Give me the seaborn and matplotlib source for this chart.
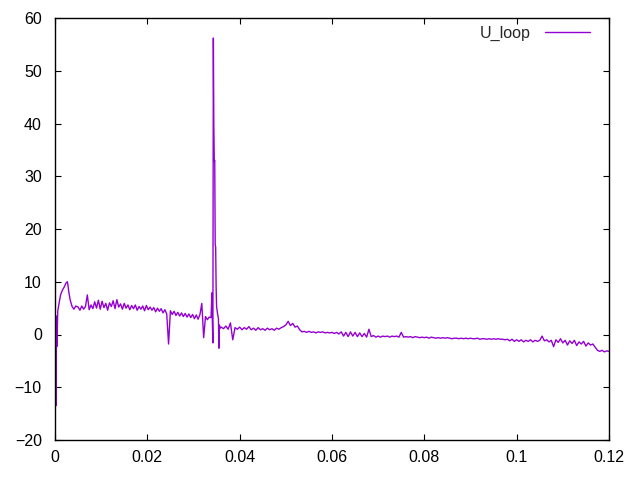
import numpy as np
import pandas as pd
import matplotlib
matplotlib.use("Agg")
import matplotlib.pyplot as plt
import seaborn as sns

# ==============================
# Data
# ==============================

# start-up transient, 0 .. 0.0045 s
t_start = [0, 0.0002, 0.0003, 0.0004, 0.0006, 0.0009, 0.0012, 0.0016,
           0.002, 0.0024, 0.0027, 0.003, 0.0033, 0.0037, 0.0041, 0.0045]
u_start = [9.8, -13.5, 3.5, -2.3, 4.5, 6.0, 7.5, 8.4,
           9.0, 9.8, 10.0, 8.0, 6.5, 5.3, 4.8, 5.4]

# plateau, sampled every 0.4 ms from 0.005 s
t_plateau0, t_plateau_step = 0.005, 0.0004
u_plateau = [5.2, 4.6, 5.4, 4.8, 5.3, 7.5, 4.7, 5.6, 4.9, 6.2,
             5.0, 6.5, 4.8, 6.3, 5.1, 5.9, 4.6, 6.0, 5.3, 6.4,
             4.9, 6.6, 5.2, 5.8, 4.8, 5.9, 5.0, 5.6, 4.7, 5.5,
             4.9, 5.6, 4.6, 5.3, 4.8, 5.4, 4.5, 5.5, 4.7, 5.2,
             4.6, 5.1, 4.3, 5.0, 4.4, 4.9, 4.1, 4.7, 3.9, -1.8,
             4.5, 3.8, 4.4, 3.6, 4.2, 3.5, 4.1, 3.4, 4.0, 3.3,
             3.9, 3.2, 3.8, 3.0, 3.7, 2.9, 3.8, 5.9, -0.6, 3.4,
             2.8, 3.3]

# disruption spike
t_spike = [0.0338, 0.0340, 0.0341, 0.0342, 0.0343, 0.0344, 0.0345, 0.0346,
           0.0347, 0.0348, 0.0349, 0.0350, 0.0352, 0.0354, 0.0355, 0.0356,
           0.0357, 0.0358]
u_spike = [3.2, 7.9, 2.0, -1.6, 56.2, 40.0, 32.8, 33.0,
           17.0, 16.6, 9.0, 5.3, 4.0, 3.0, -2.6, 1.8,
           1.5, 1.2]

# tail, sampled every 0.5 ms from 0.036 s
t_tail0, t_tail_step = 0.036, 0.0005
u_tail = [1.4, 1.1, 1.6, 1.0, 2.2, -1.0, 1.3, 1.0, 1.4, 0.9,
          1.3, 1.0, 1.5, 0.9, 1.2, 0.8, 1.3, 0.9, 1.1, 0.8,
          1.2, 0.9, 1.1, 0.8, 1.2, 1.0, 1.3, 1.5, 1.8, 2.5,
          1.7, 2.1, 1.4, 1.6, 0.9, 0.5, 0.6, 0.4, 0.6, 0.4,
          0.5, 0.3, 0.5, 0.4, 0.5, 0.3, 0.4, 0.3, 0.4, 0.2,
          0.4, 0.1, 0.5, -0.3, 0.4, -0.4, 0.5, -0.3, 0.4, -0.4,
          0.3, -0.4, 0.2, -0.5, 1.0, -0.4, -0.2, -0.5, -0.3, -0.5,
          -0.3, -0.4, -0.3, -0.5, -0.3, -0.4, -0.3, -0.5, 0.4, -0.5,
          -0.4, -0.5, -0.4, -0.6, -0.4, -0.5, -0.6, -0.5, -0.6, -0.5,
          -0.7, -0.5, -0.6, -0.7, -0.6, -0.7, -0.6, -0.7, -0.6, -0.7,
          -0.8, -0.7, -0.7, -0.8, -0.7, -0.8, -0.7, -0.8, -0.7, -0.8,
          -0.8, -0.7, -0.9, -0.8, -0.8, -0.9, -0.8, -0.9, -0.8, -0.9,
          -0.8, -0.9, -0.9, -1.0, -0.9, -1.2, -0.9, -1.3, -1.0, -1.3,
          -1.0, -1.4, -1.1, -1.3, -1.0, -1.4, -1.1, -1.3, -1.1, -0.3,
          -1.2, -1.0, -1.4, -1.1, -2.3, -1.0, -1.5, -0.8, -1.6, -1.1,
          -2.0, -1.2, -1.7, -1.1, -2.1, -1.4, -1.8, -1.3, -2.2, -1.6,
          -2.0, -1.8, -2.4, -3.0, -3.2, -3.0, -3.3, -3.1, -3.2]

x_ticks = [0, 0.02, 0.04, 0.06, 0.08, 0.1, 0.12]
x_ticklabels = ["0", "0.02", "0.04", "0.06", "0.08", "0.1", "0.12"]
y_ticks = [-20, -10, 0, 10, 20, 30, 40, 50, 60]

# ==============================
# Assemble series
# ==============================

t_plateau = t_plateau0 + t_plateau_step * np.arange(len(u_plateau))
t_tail = t_tail0 + t_tail_step * np.arange(len(u_tail))

df = pd.DataFrame({
    "t": np.concatenate([t_start, t_plateau, t_spike, t_tail]),
    "U_loop": np.concatenate([u_start, u_plateau, u_spike, u_tail]),
})

# ==============================
# Plot
# ==============================

sns.set_style("ticks")
plt.rcParams["font.family"] = ["Liberation Sans", "DejaVu Sans"]

fig = plt.figure(figsize=(6.4, 4.8), dpi=100)
ax = fig.add_axes([55 / 640, 40 / 480, 554 / 640, 422 / 480])

sns.lineplot(
    data=df, x="t", y="U_loop",
    color="#9400D3", linewidth=1.0,
    estimator=None, label="U_loop", ax=ax
)

ax.set_xlim(0, 0.12)
ax.set_ylim(-20, 60)
ax.set_xticks(x_ticks)
ax.set_xticklabels(x_ticklabels)
ax.set_yticks(y_ticks)
ax.set_xlabel("")
ax.set_ylabel("")

for s in ax.spines.values():
    s.set_visible(True)
    s.set_color("black")
    s.set_linewidth(1.0)

ax.tick_params(direction="in", length=4, width=0.8, labelsize=11.5,
               top=True, right=True, colors="black")
ax.tick_params(axis="x", pad=7.5)
ax.tick_params(axis="y", pad=9.5)

ax.legend(
    loc="upper right", bbox_to_anchor=(0.966, 0.982),
    frameon=False, markerfirst=False, fontsize=11.5,
    handlelength=2.8, handletextpad=0.9,
    borderpad=0, borderaxespad=0
)

plt.savefig("out.png", dpi=100)
plt.close()
